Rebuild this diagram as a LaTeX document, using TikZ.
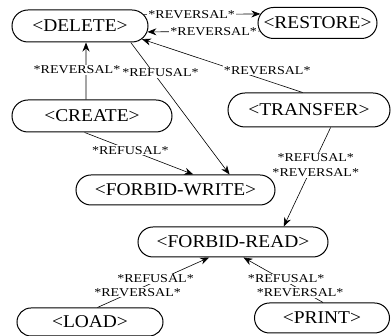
\documentclass[tikz,border=0pt]{standalone}
\usepackage{fontspec}
\setmainfont{Liberation Serif}
\newfontfamily\boxfont[FakeStretch=1.08]{Liberation Serif}
\newfontfamily\labfont[FakeStretch=1.17]{Liberation Serif}
\usetikzlibrary{arrows.meta, shapes.misc}

\tikzset{
  statebox/.style={draw, line width=1pt, rounded rectangle, inner sep=0pt,
    font=\boxfont\fontsize{18}{18}\selectfont},
  rel/.style={fill=white, inner sep=1pt, align=center,
    font=\labfont\fontsize{12}{15}\selectfont},
}

\begin{document}
\begin{tikzpicture}[x=1pt, y=-1pt, >={Stealth[length=9pt, width=7pt]}, semithick]
  \useasboundingbox (0,0) rectangle (392,336);

  % States
  \node[statebox, minimum width=136pt, minimum height=32pt] (delete)   at (80,26)    {<DELETE>};
  \node[statebox, minimum width=119pt, minimum height=31pt] (restore)  at (317.5,23) {<RESTORE>};
  \node[statebox, minimum width=160pt, minimum height=32pt] (create)   at (92,116)   {<CREATE>};
  \node[statebox, minimum width=162pt, minimum height=34pt] (transfer) at (309,110)  {<TRANSFER>};
  \node[statebox, minimum width=199pt, minimum height=30pt] (fwrite)   at (175.5,190) {<FORBID-WRITE>};
  \node[statebox, minimum width=190pt, minimum height=30pt] (fread)    at (233,242)  {<FORBID-READ>};
  \node[statebox, minimum width=146pt, minimum height=28pt] (load)     at (90,322)   {<LOAD>};
  \node[statebox, minimum width=135pt, minimum height=30pt] (print)    at (322,318)  {<PRINT>};

  % DELETE <-> RESTORE
  \draw[->] (delete.10) -- (restore.171) node[rel, pos=0.41] {*REVERSAL*};
  \draw[->] (restore.188) -- (delete.355) node[rel, pos=0.41] {*REVERSAL*};

  % into DELETE and FORBID-WRITE
  \draw[->] (transfer.110) -- (delete.348) node[rel, pos=0.22, above, yshift=5pt] {*REVERSAL*};
  \draw[->] (create.110) -- (delete.290) node[rel, pos=0.52, xshift=-9pt] {*REVERSAL*};
  \draw[->] (delete.342) -- (fwrite.16) node[rel, pos=0.23, xshift=7pt] {*REFUSAL*};
  \draw[->] (create.246) -- (fwrite.41) node[rel, pos=0.42] {*REFUSAL*};

  % into FORBID-READ
  \draw[->] (transfer.321) -- (fread.17) node[rel, pos=0.38, xshift=3pt] {*REFUSAL*\\*REVERSAL*};
  \draw[->] (load.63) -- (fread.213)
    node[rel, pos=0.44, above, xshift=9pt, yshift=1.5pt] {*REFUSAL*}
    node[rel, pos=0.44, below, xshift=-9pt, yshift=-1.5pt] {*REVERSAL*};
  \draw[->] (print.86) -- (fread.304)
    node[rel, pos=0.375, above, xshift=-7pt, yshift=1.5pt] {*REFUSAL*}
    node[rel, pos=0.375, below, xshift=7pt, yshift=-1.5pt] {*REVERSAL*};
\end{tikzpicture}
\end{document}
